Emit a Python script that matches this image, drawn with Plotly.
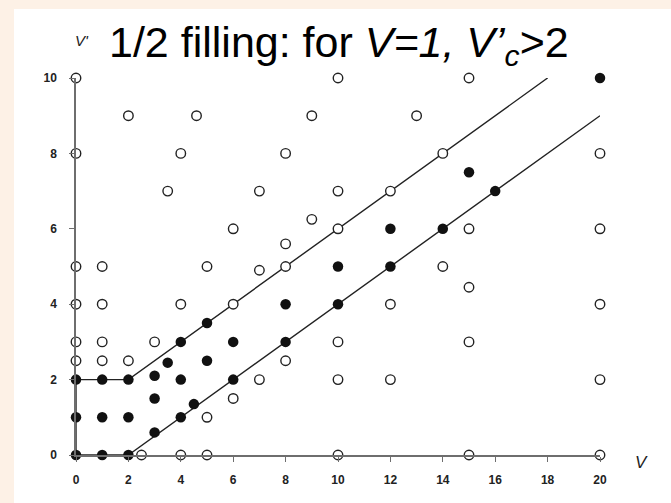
import plotly.graph_objects as go

# Phase-diagram sample points (V, V')
open_v = [0, 2, 4.6, 0, 4, 3.5, 10, 9, 13, 8, 14, 7, 10, 12, 6, 9, 10, 8, 15, 20, 15, 20,
          14, 15, 20, 15, 20, 15, 20,
          0, 1, 5, 0, 1, 4, 6, 0, 1, 3, 0, 1, 2, 5, 6, 2.5, 4, 5,
          7, 8, 12, 10, 8, 7, 10, 12, 10]
open_vp = [10, 9, 9, 8, 8, 7, 10, 9, 9, 8, 8, 7, 7, 7, 6, 6.25, 6, 5.6, 10, 8, 6, 6,
           5, 4.45, 4, 3, 2, 0, 0,
           5, 5, 5, 4, 4, 4, 4, 3, 3, 3, 2.5, 2.5, 2.5, 1, 1.5, 0, 0, 0,
           4.9, 5, 4, 3, 2.5, 2, 2, 2, 0]

filled_v = [0, 1, 2, 0, 1, 2, 0, 1, 2, 3, 4, 4.5, 3, 3, 4, 3.5, 4, 5, 5, 6, 6,
            8, 8, 10, 10, 12, 12, 14, 15, 16, 20]
filled_vp = [0, 0, 0, 1, 1, 1, 2, 2, 2, 0.6, 1, 1.35, 1.5, 2.1, 2, 2.45, 3, 2.5, 3.5, 3, 2,
             4, 3, 4, 5, 5, 6, 6, 7.5, 7, 10]

# Phase boundaries
upper_v = [0, 2, 18]
upper_vp = [2, 2, 10]
lower_v = [0, 0, 2, 20]
lower_vp = [2, 0, 0, 9]

x_ticks = [0, 2, 4, 6, 8, 10, 12, 14, 16, 18, 20]
y_ticks = [0, 2, 4, 6, 8, 10]

W, H = 671, 503
L, R, T, B = 76, 71, 78, 48
PW, PH = W - L - R, H - T - B


def px(x):
    return (x - L) / PW


def py(y):
    return (H - B - y) / PH


fig = go.Figure()

fig.add_trace(go.Scatter(x=upper_v, y=upper_vp, mode="lines",
                         line=dict(color="#222222", width=1.4), hoverinfo="skip"))
fig.add_trace(go.Scatter(x=lower_v, y=lower_vp, mode="lines",
                         line=dict(color="#222222", width=1.4), hoverinfo="skip"))

fig.add_trace(go.Scatter(x=open_v, y=open_vp, mode="markers",
                         marker=dict(symbol="circle", size=9.5, color="white",
                                     line=dict(color="#222222", width=1.4)),
                         cliponaxis=False))
fig.add_trace(go.Scatter(x=filled_v, y=filled_vp, mode="markers",
                         marker=dict(symbol="circle", size=10.5, color="#111111",
                                     line=dict(color="#111111", width=0)),
                         cliponaxis=False))

axis_common = dict(showgrid=False, zeroline=False, showline=True, linecolor="#6e6e6e",
                   linewidth=1.5, ticks="outside", ticklen=5, tickcolor="#6e6e6e",
                   tickwidth=1.2,
                   tickfont=dict(family="Liberation Sans, Arial", size=12, color="#222222",
                                 weight="bold"))

fig.update_xaxes(range=[0, 20], tickvals=x_ticks, ticktext=[str(t) for t in x_ticks],
                 ticklabelstandoff=8, **axis_common)
fig.update_yaxes(range=[0, 10], tickvals=y_ticks, ticktext=[str(t) for t in y_ticks],
                 ticklabelstandoff=10, **axis_common)

fig.add_shape(type="rect", xref="paper", yref="paper", layer="below",
              x0=px(14), x1=px(W + 5), y0=py(H + 5), y1=py(9),
              fillcolor="white", line=dict(width=0))

fig.add_annotation(xref="paper", yref="paper", x=px(107), y=py(45), xanchor="left",
                   yanchor="middle", showarrow=False,
                   text="1/2 filling: for <i>V=1,</i> <i>V’</i><sub><i>c</i></sub>>2",
                   font=dict(family="Liberation Sans, Arial", size=43, color="black"))
fig.add_annotation(xref="paper", yref="paper", x=px(82), y=py(41), xanchor="center",
                   yanchor="middle", showarrow=False, text="<i>V'</i>",
                   font=dict(family="Liberation Sans, Arial", size=15, color="#222222"))
fig.add_annotation(xref="paper", yref="paper", x=px(641), y=py(462), xanchor="center",
                   yanchor="middle", showarrow=False, text="<i>V</i>",
                   font=dict(family="Liberation Sans, Arial", size=17, color="#222222"))

fig.update_layout(width=W, height=H, margin=dict(l=L, r=R, t=T, b=B),
                  paper_bgcolor="#fdf1e6", plot_bgcolor="rgba(0,0,0,0)",
                  showlegend=False)

fig.write_html("out.html")
